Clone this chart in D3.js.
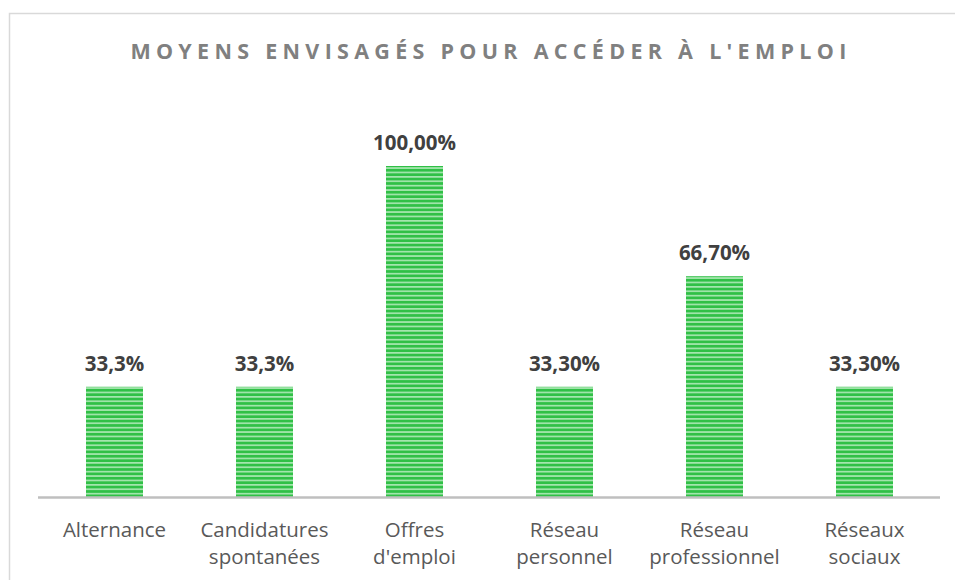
<!DOCTYPE html>
<html><head><meta charset="utf-8">
<script src="https://cdn.jsdelivr.net/npm/d3@7"></script>
<style>html,body{margin:0;padding:0;background:#fff;}svg{display:block;}</style>
</head><body>
<script>
const categories = [["Alternance"], ["Candidatures","spontanées"], ["Offres","d'emploi"], ["Réseau","personnel"], ["Réseau","professionnel"], ["Réseaux","sociaux"]];
const values = [0.333, 0.333, 1.0, 0.333, 0.667, 0.333];
const valueLabels = ["33,3%", "33,3%", "100,00%", "33,30%", "66,70%", "33,30%"];
const title = "MOYENS ENVISAGÉS POUR ACCÉDER À L'EMPLOI";

const W = 955, H = 580;
const svg = d3.select("body").append("svg").attr("width", W).attr("height", H);

const defs = svg.append("defs");
const pat = defs.append("pattern").attr("id","stripes").attr("patternUnits","userSpaceOnUse")
  .attr("width", 8).attr("height", 4.4);
pat.append("rect").attr("width",8).attr("height",4.4).attr("fill","#30c046");
pat.append("rect").attr("y",0).attr("width",8).attr("height",1.7).attr("fill","#a4e6ae");

// chart border
svg.append("rect").attr("x",9.5).attr("y",13.5).attr("width",W+10).attr("height",H+10)
  .attr("fill","none").attr("stroke","#d9d9d9").attr("stroke-width",1.5);

svg.append("text").attr("x",491).attr("y",59).attr("text-anchor","middle")
  .attr("font-family","'Open Sans', sans-serif").attr("font-weight","bold").attr("font-size",21.5)
  .attr("letter-spacing","5.3px").attr("fill","#808080").text(title);

const x = d3.scaleBand().domain(d3.range(categories.length)).range([39.5, 939.5]).paddingInner(0.62).paddingOuter(0.31);
const y = d3.scaleLinear().domain([0, 1]).range([497, 166]);

svg.selectAll("rect.bar").data(values).join("rect").attr("class","bar")
  .attr("x",(d,i)=>x(i)).attr("width",x.bandwidth())
  .attr("y",d=>y(d)).attr("height",d=>y(0)-y(d))
  .attr("fill","url(#stripes)");

svg.append("line").attr("x1",38).attr("x2",940).attr("y1",497.5).attr("y2",497.5)
  .attr("stroke","#bfbfbf").attr("stroke-width",2.5);

svg.selectAll("text.val").data(values).join("text").attr("class","val")
  .attr("x",(d,i)=>x(i)+x.bandwidth()/2).attr("y",d=>y(d)-16)
  .attr("text-anchor","middle").attr("font-family","'Open Sans', sans-serif")
  .attr("font-weight","bold").attr("font-size",20.5).attr("fill","#404040")
  .text((d,i)=>valueLabels[i]);

const cat = svg.selectAll("text.cat").data(categories).join("text").attr("class","cat")
  .attr("text-anchor","middle").attr("font-family","'Open Sans', sans-serif")
  .attr("font-size",20.5).attr("fill","#595959");
cat.each(function(d,i){
  const t = d3.select(this);
  d.forEach((line,j)=>{
    t.append("tspan").attr("x",x(i)+x.bandwidth()/2).attr("y",537+j*27).text(line);
  });
});
</script>
</body></html>
